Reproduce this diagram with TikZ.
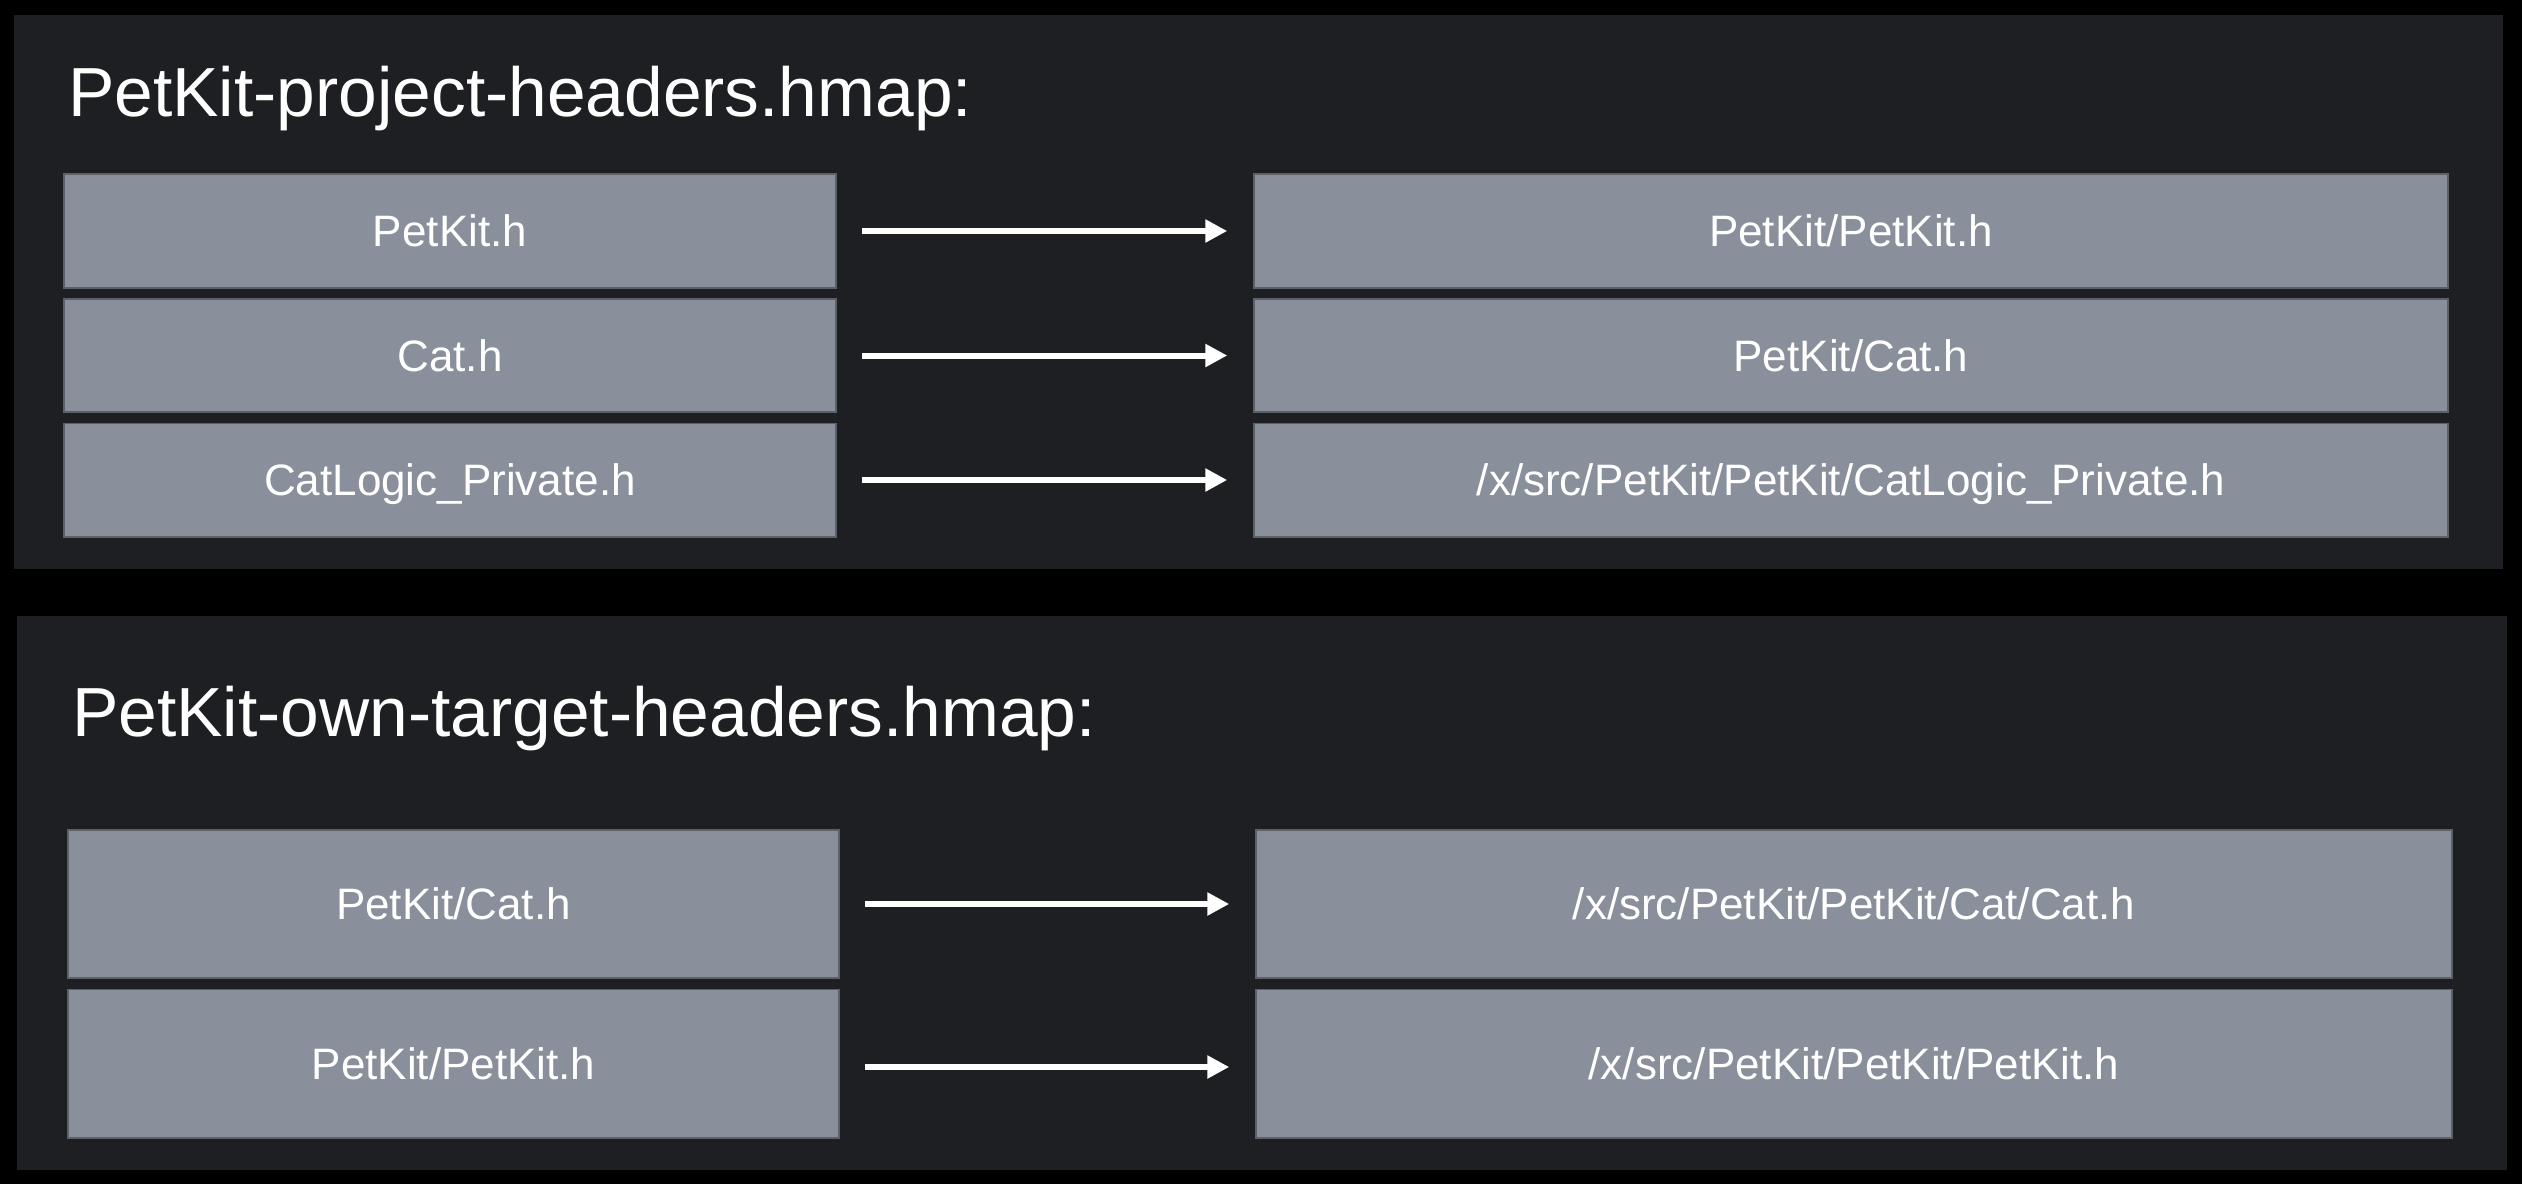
\documentclass[tikz,border=0pt]{standalone}
\usepackage{fontspec}
\setmainfont{Liberation Sans}
\usetikzlibrary{arrows.meta}
\definecolor{bgblack}{HTML}{000000}
\definecolor{panelc}{HTML}{1D1F22}
\definecolor{boxc}{HTML}{8A909B}
\definecolor{boxedge}{HTML}{5C6169}
\tikzset{
  panel/.style={fill=panelc, draw=none},
  hbox/.style={rectangle, fill=boxc, draw=boxedge, line width=1.5pt, inner sep=0pt,
    text=white, font=\fontsize{44}{50}\selectfont, text height=31.5pt, text depth=0pt},
  title/.style={anchor=base west, inner sep=0pt, text=white, font=\fontsize{69.5}{80}\selectfont},
  maparrow/.style={draw=white, line width=6pt, -{Triangle[length=22pt,width=22pt]}}
}
\begin{document}
\begin{tikzpicture}[x=1pt,y=-1pt]
\useasboundingbox (0,0) rectangle (2522,1184);
\fill[bgblack] (0,0) rectangle (2522,1184);
% panels
\fill[panel] (14,15) rectangle (2503,569);
\fill[panel] (17,616) rectangle (2507,1170);
% titles
\node[title] (t1) at (68,116) {PetKit-project-headers.hmap:};
\node[title] (t2) at (72,736) {PetKit-own-target-headers.hmap:};
% top panel boxes
\node[hbox, minimum width=772pt, minimum height=114pt] (l1) at (450,231) {PetKit.h};
\node[hbox, minimum width=772pt, minimum height=113pt] (l2) at (450,355.5) {Cat.h};
\node[hbox, minimum width=772pt, minimum height=113.5pt] (l3) at (450,480) {CatLogic\_Private.h};
\node[hbox, minimum width=1194pt, minimum height=114pt] (r1) at (1851,231) {PetKit/PetKit.h};
\node[hbox, minimum width=1194pt, minimum height=113pt] (r2) at (1851,355.5) {PetKit/Cat.h};
\node[hbox, minimum width=1194pt, minimum height=113.5pt] (r3) at (1851,480) {/x/src/PetKit/PetKit/CatLogic\_Private.h};
% bottom panel boxes
\node[hbox, minimum width=771pt, minimum height=148pt] (l4) at (453.5,904) {PetKit/Cat.h};
\node[hbox, minimum width=771pt, minimum height=148.5pt] (l5) at (453.5,1063.5) {PetKit/PetKit.h};
\node[hbox, minimum width=1196pt, minimum height=148pt] (r4) at (1854,904) {/x/src/PetKit/PetKit/Cat/Cat.h};
\node[hbox, minimum width=1196pt, minimum height=148.5pt] (r5) at (1854,1063.5) {/x/src/PetKit/PetKit/PetKit.h};
% arrows
\foreach \i in {1,...,4}{
  \draw[maparrow] ([xshift=25pt]l\i.east) -- ([xshift=-26pt]r\i.west);
}
\draw[maparrow] ([xshift=25pt,yshift=-3.5pt]l5.east) -- ([xshift=-26pt,yshift=-3.5pt]r5.west);
\end{tikzpicture}
\end{document}
